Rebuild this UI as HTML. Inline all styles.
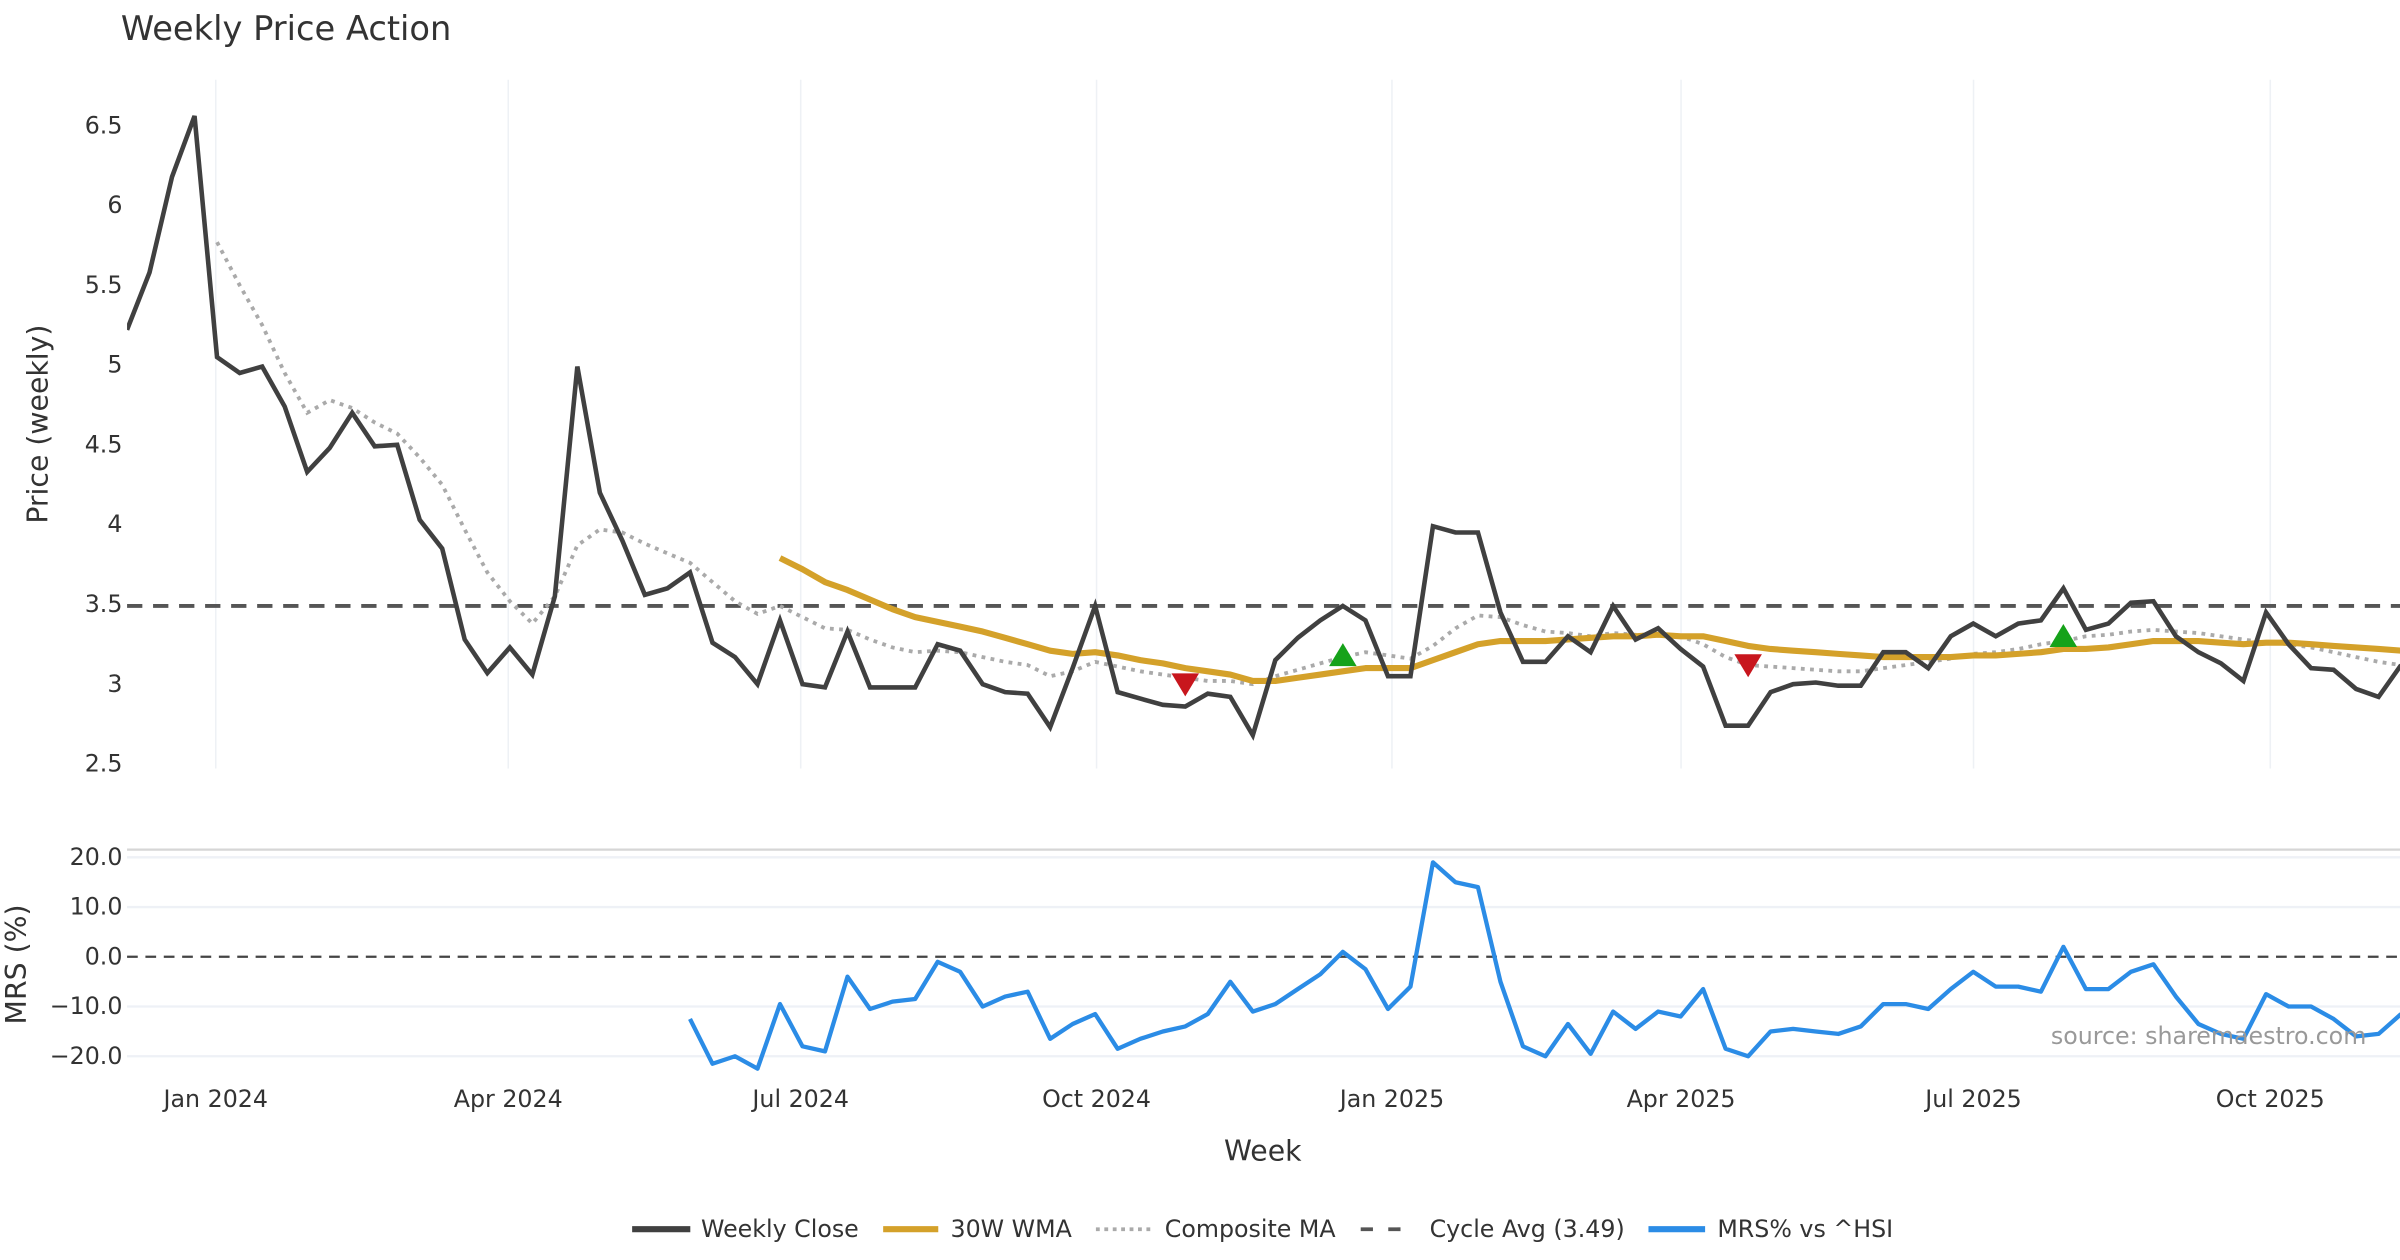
<!DOCTYPE html>
<html><head><meta charset="utf-8"><style>
html,body{margin:0;padding:0;background:#fff;}
svg{display:block;font-family:"DejaVu Sans","Liberation Sans",sans-serif;}
</style></head><body>
<svg id="chart" width="2400" height="1260" viewBox="0 0 1568 823" xmlns="http://www.w3.org/2000/svg">
<defs><clipPath id="clipMain"><rect x="83" y="40" width="1485" height="480"/></clipPath>
<clipPath id="clipMrs"><rect x="83" y="550" width="1485" height="160"/></clipPath></defs>
<rect width="1568" height="823" fill="#fff"/>
<text x="79" y="26" font-size="22" fill="#333">Weekly Price Action</text>
<g id="grid"></g>
<g id="main" clip-path="url(#clipMain)"></g>
<g id="mrs" clip-path="url(#clipMrs)"></g>
<g id="axes"></g>
<text transform="translate(31,277) rotate(-90)" text-anchor="middle" font-size="18.5" fill="#333">Price (weekly)</text>
<text transform="translate(17,630) rotate(-90)" text-anchor="middle" font-size="18.5" fill="#333">MRS (%)</text>
<text x="825" y="758" text-anchor="middle" font-size="18.5" fill="#333">Week</text>
<text x="1546" y="682" text-anchor="end" font-size="15.5" fill="#999">source: sharemaestro.com</text>
<g font-size="15.5" fill="#333">
 <g><line x1="413" y1="803" x2="451" y2="803" stroke="#404040" stroke-width="4"/><text x="458" y="808">Weekly Close</text></g>
 <g><line x1="577" y1="803" x2="613" y2="803" stroke="#d4a12a" stroke-width="4"/><text x="621" y="808">30W WMA</text></g>
 <g><line x1="716" y1="803" x2="752" y2="803" stroke="#aaa" stroke-width="2.5" stroke-dasharray="2.5,3"/><text x="761" y="808">Composite MA</text></g>
 <g><line x1="889" y1="803" x2="925" y2="803" stroke="#555" stroke-width="2.5" stroke-dasharray="8,10"/><text x="934" y="808">Cycle Avg (3.49)</text></g>
 <g><line x1="1077" y1="803" x2="1114" y2="803" stroke="#2b8ce6" stroke-width="4"/><text x="1122" y="808">MRS% vs ^HSI</text></g>
</g>
</svg>
<script>
const closeVals=[5.22,5.58,6.18,6.56,5.05,4.95,4.99,4.74,4.33,4.48,4.70,4.49,4.50,4.03,3.85,3.28,3.07,3.23,3.06,3.55,4.99,4.20,3.90,3.56,3.60,3.70,3.26,3.17,3.00,3.40,3.00,2.98,3.33,2.98,2.98,2.98,3.25,3.21,3.00,2.95,2.94,2.73,3.10,3.49,2.95,2.91,2.87,2.86,2.94,2.92,2.68,3.15,3.29,3.40,3.49,3.40,3.05,3.05,3.99,3.95,3.95,3.45,3.14,3.14,3.30,3.20,3.49,3.28,3.35,3.22,3.11,2.74,2.74,2.95,3.00,3.01,2.99,2.99,3.20,3.20,3.10,3.30,3.38,3.30,3.38,3.40,3.60,3.34,3.38,3.51,3.52,3.30,3.20,3.13,3.02,3.45,3.25,3.10,3.09,2.97,2.92,3.12];
const wmaStart=29;
const wmaVals=[3.79,3.72,3.64,3.59,3.53,3.47,3.42,3.39,3.36,3.33,3.29,3.25,3.21,3.19,3.20,3.18,3.15,3.13,3.10,3.08,3.06,3.02,3.02,3.04,3.06,3.08,3.10,3.10,3.10,3.15,3.20,3.25,3.27,3.27,3.27,3.28,3.29,3.30,3.30,3.31,3.30,3.30,3.27,3.24,3.22,3.21,3.20,3.19,3.18,3.17,3.17,3.17,3.17,3.18,3.18,3.19,3.20,3.22,3.22,3.23,3.25,3.27,3.27,3.27,3.26,3.25,3.26,3.26,3.25,3.24,3.23,3.22,3.21];
const compStart=4;
const compVals=[5.77,5.50,5.25,4.95,4.70,4.78,4.73,4.64,4.57,4.42,4.25,3.97,3.70,3.52,3.38,3.55,3.87,3.97,3.95,3.88,3.82,3.76,3.64,3.52,3.44,3.49,3.42,3.35,3.34,3.28,3.23,3.20,3.21,3.20,3.17,3.14,3.12,3.05,3.08,3.14,3.11,3.08,3.06,3.04,3.02,3.02,3.00,3.05,3.09,3.13,3.17,3.20,3.18,3.16,3.24,3.35,3.43,3.42,3.37,3.33,3.32,3.30,3.32,3.31,3.31,3.30,3.25,3.17,3.12,3.11,3.10,3.09,3.08,3.08,3.10,3.12,3.14,3.16,3.19,3.20,3.22,3.25,3.27,3.30,3.31,3.33,3.34,3.33,3.32,3.30,3.28,3.26,3.25,3.23,3.20,3.17,3.14,3.12];
const mrsStart=25;
const mrsVals=[-12.5,-21.5,-20,-22.5,-9.5,-18,-19,-4,-10.5,-9,-8.5,-1,-3,-10,-8,-7,-16.5,-13.5,-11.5,-18.5,-16.5,-15,-14,-11.5,-5,-11,-9.5,-6.5,-3.5,1,-2.5,-10.5,-6,19,15,14,-5,-18,-20,-13.5,-19.5,-11,-14.5,-11,-12,-6.5,-18.5,-20,-15,-14.5,-15,-15.5,-14,-9.5,-9.5,-10.5,-6.5,-3,-6,-6,-7,2,-6.5,-6.5,-3,-1.5,-8,-13.5,-15.5,-16.5,-7.5,-10,-10,-12.5,-16,-15.5,-11.5];
const sellIdx=[47,72];
const sellVals=[3.00,3.12];
const buyIdx=[54,86];
const buyVals=[3.18,3.30];
const cycleAvg=3.49;
const priceTicks=[2.5,3,3.5,4,4.5,5,5.5,6,6.5];
const priceTickLabels=["2.5","3","3.5","4","4.5","5","5.5","6","6.5"];
const mrsTicks=[-20,-10,0,10,20];
const mrsTickLabels=["−20.0","−10.0","0.0","10.0","20.0"];
const monthLabels=["Jan 2024","Apr 2024","Jul 2024","Oct 2024","Jan 2025","Apr 2025","Jul 2025","Oct 2025"];
const monthWeekPos=[3.94,16.93,29.92,43.06,56.18,69.02,82.01,95.19];

const NS="http://www.w3.org/2000/svg";
const xOf=i=>83+i*14.71;
const yP=v=>82+(6.5-v)*104.25;
const yM=v=>625-v*3.25;
function el(tag,attrs,parent){const e=document.createElementNS(NS,tag);for(const k in attrs)e.setAttribute(k,attrs[k]);parent.appendChild(e);return e;}
const grid=document.getElementById('grid'),main=document.getElementById('main'),mrs=document.getElementById('mrs'),axes=document.getElementById('axes');

monthWeekPos.forEach((w,k)=>{
 const x=xOf(w);
 const g=el('line',{x1:x,x2:x,y1:52,y2:502,stroke:'#eef1f5','stroke-width':1},grid);
 
 
 const t=el('text',{x:x,y:723,'text-anchor':'middle','font-size':15.5,fill:'#333'},axes);
 t.textContent=monthLabels[k];
 
 
});
priceTicks.forEach((v,k)=>{
 const t=el('text',{x:80,y:yP(v)+5,'text-anchor':'end','font-size':15.5,fill:'#333'},axes);
 t.textContent=priceTickLabels[k];
 
 
});
const sep=el('line',{x1:83,x2:1568,y1:555,y2:555,stroke:'#d6d6d6','stroke-width':1.5},grid);


mrsTicks.forEach((v,k)=>{
 if(v!==0){const g=el('line',{x1:83,x2:1568,y1:yM(v),y2:yM(v),stroke:'#eef1f6','stroke-width':1.5},grid);
 
 }
 const t=el('text',{x:80,y:yM(v)+5,'text-anchor':'end','font-size':15.5,fill:'#333'},axes);
 t.textContent=mrsTickLabels[k];
 
 
});
const zl=el('line',{x1:83,x2:1568,y1:yM(0),y2:yM(0),stroke:'#444','stroke-width':1.5,'stroke-dasharray':'7,5'},mrs);



const ca=el('line',{x1:83,x2:1568,y1:yP(cycleAvg),y2:yP(cycleAvg),stroke:'#555','stroke-width':2.5,'stroke-dasharray':'10,7'},main);



function pts(vals,start,yf){return vals.map((v,i)=>xOf(start+i).toFixed(1)+','+yf(v).toFixed(1)).join(' ');}
const cm=el('polyline',{points:pts(compVals,compStart,yP),fill:'none',stroke:'#aaa','stroke-width':2.5,'stroke-dasharray':'2.5,3.5'},main);


const wm=el('polyline',{points:pts(wmaVals,wmaStart,yP),fill:'none',stroke:'#d4a12a','stroke-width':4,'stroke-linejoin':'round'},main);


const cl=el('polyline',{points:pts(closeVals,0,yP),fill:'none',stroke:'#404040','stroke-width':3,'stroke-linejoin':'miter'},main);


sellIdx.forEach((ix,k)=>{
 const x=xOf(ix),y=yP(sellVals[k]);
 const p=el('polygon',{points:`${x-9},${y-7} ${x+9},${y-7} ${x},${y+8}`,fill:'#c8161d'},main);
 
 
});
buyIdx.forEach((ix,k)=>{
 const x=xOf(ix),y=yP(buyVals[k]);
 const p=el('polygon',{points:`${x-9},${y+7} ${x+9},${y+7} ${x},${y-8}`,fill:'#16a21a'},main);
 
 
});
const ml=el('polyline',{points:pts(mrsVals,mrsStart,yM),fill:'none',stroke:'#2b8ce6','stroke-width':2.8,'stroke-linejoin':'round'},mrs);


</script>
</body></html>
